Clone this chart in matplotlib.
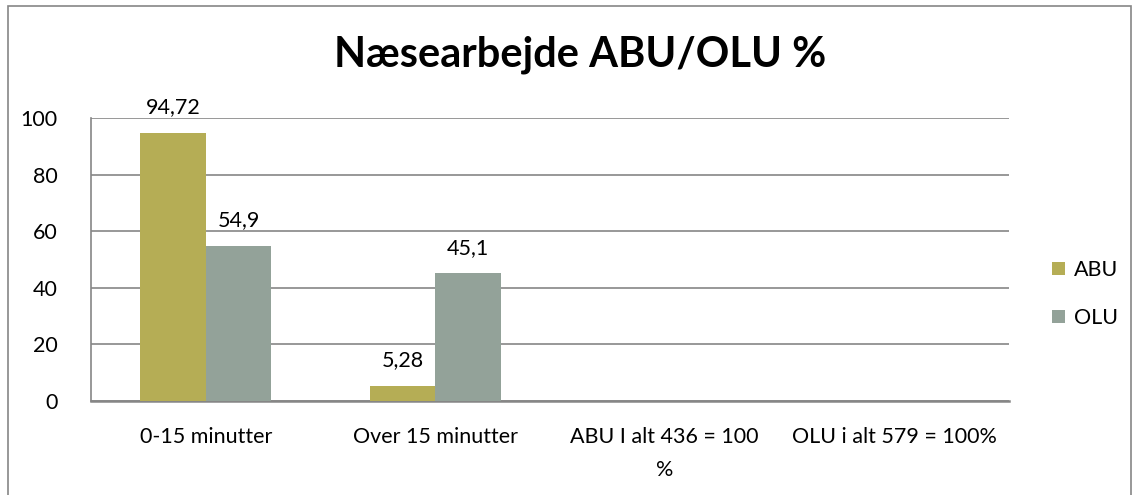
import matplotlib.pyplot as plt
import numpy as np
from matplotlib.patches import Rectangle

plt.rcParams['font.family'] = ['Lato', 'DejaVu Sans']

categories = ['0-15 minutter', 'Over 15 minutter', 'ABU I alt 436 = 100\n%', 'OLU i alt 579 = 100%']
abu = [94.72, 5.28, 0, 0]
olu = [54.9, 45.1, 0, 0]
abu_labels = ['94,72', '5,28', '', '']
olu_labels = ['54,9', '45,1', '', '']
yticks = [0, 20, 40, 60, 80, 100]

col_abu = '#b5ad55'
col_olu = '#93a299'
grid_col = '#868686'

fig = plt.figure(figsize=(11.37, 4.95), dpi=100)
fig.patches.append(Rectangle((8 / 1137, -0.1), (1131 - 8) / 1137, 1.1 - 6 / 495,
                             transform=fig.transFigure, fill=False,
                             edgecolor='#868686', lw=1.2))
ax = fig.add_axes([91 / 1137, 1 - 401 / 495, (1009 - 91) / 1137, (401 - 118) / 495])

x = np.arange(len(categories))
w = 1 / 3.5
b1 = ax.bar(x - w / 2, abu, w, color=col_abu, zorder=3)
b2 = ax.bar(x + w / 2, olu, w, color=col_olu, zorder=3)

for rect, lab in zip(b1, abu_labels):
    if lab:
        ax.text(rect.get_x() + rect.get_width() / 2, rect.get_height() + 5.5, lab,
                ha='center', va='bottom', fontsize=15.5)
for rect, lab in zip(b2, olu_labels):
    if lab:
        ax.text(rect.get_x() + rect.get_width() / 2, rect.get_height() + 5.5, lab,
                ha='center', va='bottom', fontsize=15.5)

ax.set_xlim(-0.5, len(categories) - 0.5)
ax.set_ylim(0, 100)
ax.set_yticks(yticks)
ax.set_yticklabels([str(t) for t in yticks], fontsize=15.5)
ax.set_xticks(x)
ax.set_xticklabels(categories, fontsize=15.5, linespacing=1.8, va='top')
ax.tick_params(axis='x', length=0, pad=19)
ax.tick_params(axis='y', length=0, pad=24)
ax.grid(axis='y', color=grid_col, lw=1.2, zorder=0)
for s in ['top', 'right']:
    ax.spines[s].set_visible(False)
ax.spines['left'].set_color(grid_col)
ax.spines['left'].set_linewidth(1.2)
ax.spines['bottom'].set_color(grid_col)
ax.spines['bottom'].set_linewidth(1.8)

fig.text(580 / 1137, 1 - 55 / 495, 'Næsearbejde ABU/OLU %', ha='center', va='center',
         fontsize=30, fontweight='bold')

leg = fig.legend([b1, b2], ['ABU', 'OLU'], loc='center left',
                 bbox_to_anchor=(1052 / 1137, 1 - 294 / 495), frameon=False,
                 fontsize=15.5, handlelength=0.6, handleheight=0.6,
                 handletextpad=0.4, labelspacing=1.3, borderpad=0, borderaxespad=0)

fig.savefig('out.png', dpi=100)
